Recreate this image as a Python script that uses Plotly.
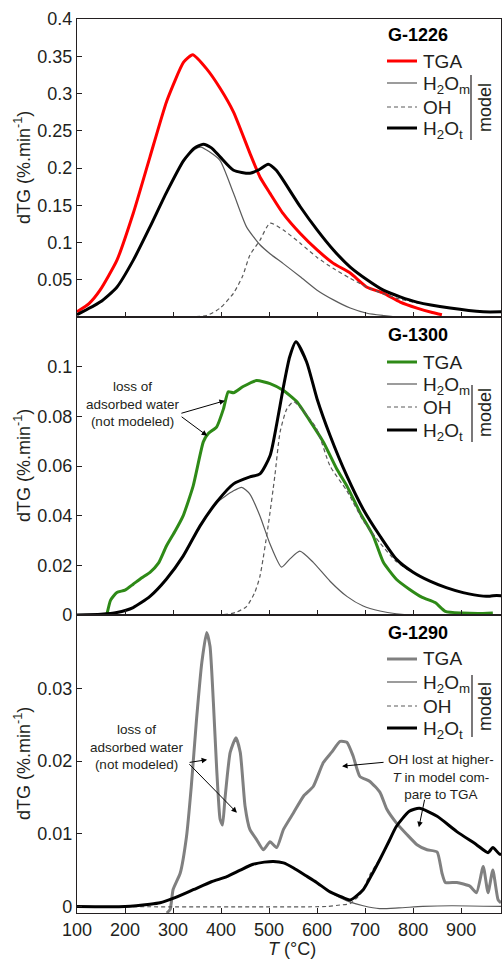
import plotly.graph_objects as go

# ---------------- DATA ----------------
# G-1226 (top)
t1_tga = [100, 125, 148, 183, 217, 252, 287, 322, 341, 370, 398, 426, 460, 481, 502, 529, 565, 600, 634, 669, 704, 738, 773, 808, 840, 860]
v1_tga = [0.007, 0.018, 0.036, 0.076, 0.139, 0.215, 0.29, 0.342, 0.352, 0.333, 0.307, 0.275, 0.22, 0.188, 0.166, 0.139, 0.112, 0.09, 0.072, 0.059, 0.040, 0.032, 0.020, 0.012, 0.006, 0.003]
t1_tot = [100, 148, 183, 217, 252, 287, 322, 345, 363, 380, 398, 426, 460, 480, 498, 515, 529, 565, 600, 634, 669, 704, 738, 773, 808, 877, 946, 985]
v1_tot = [0.003, 0.02, 0.040, 0.076, 0.121, 0.168, 0.21, 0.227, 0.232, 0.227, 0.215, 0.197, 0.193, 0.198, 0.205, 0.197, 0.184, 0.148, 0.117, 0.09, 0.067, 0.050, 0.036, 0.027, 0.020, 0.012, 0.007, 0.007]
t1_h2om = [100, 148, 183, 217, 252, 287, 322, 345, 358, 375, 398, 426, 453, 481, 502, 529, 565, 600, 634, 669, 704, 738, 770, 985]
v1_h2om = [0.003, 0.02, 0.040, 0.076, 0.121, 0.168, 0.209, 0.225, 0.228, 0.222, 0.21, 0.166, 0.121, 0.097, 0.085, 0.072, 0.054, 0.036, 0.023, 0.012, 0.005, 0.002, 0.0, 0.0]
t1_oh = [100, 300, 370, 398, 426, 445, 460, 481, 502, 529, 565, 600, 634, 669, 704, 738, 773, 808, 877, 946, 985]
v1_oh = [0, 0, 0.002, 0.012, 0.032, 0.055, 0.083, 0.103, 0.126, 0.117, 0.099, 0.080, 0.065, 0.052, 0.04, 0.031, 0.024, 0.019, 0.012, 0.007, 0.007]

# G-1300 (middle)
t2_tga = [162, 170, 183, 200, 217, 235, 252, 270, 286, 305, 321, 342, 363, 373, 391, 405, 415, 426, 446, 474, 502, 530, 558, 585, 613, 641, 662, 690, 717, 738, 765, 792, 819, 846, 867, 902, 935, 966]
v2_tga = [0, 0.006, 0.0091, 0.010, 0.0124, 0.015, 0.0172, 0.021, 0.0277, 0.034, 0.0399, 0.052, 0.0697, 0.073, 0.0758, 0.083, 0.0899, 0.0895, 0.092, 0.0944, 0.0932, 0.0904, 0.0859, 0.0782, 0.0697, 0.0588, 0.052, 0.041, 0.0318, 0.0212, 0.0144, 0.0104, 0.0071, 0.005, 0.0015, 0.0008, 0.0006, 0.0008]
t2_tot = [100, 150, 183, 217, 252, 286, 321, 356, 391, 426, 460, 481, 502, 516, 530, 543, 556, 578, 600, 627, 662, 696, 731, 765, 800, 835, 869, 904, 946, 960, 974, 985]
v2_tot = [0, 0.0003, 0.001, 0.003, 0.0075, 0.0144, 0.0237, 0.0358, 0.0455, 0.0528, 0.0556, 0.0568, 0.0641, 0.077, 0.092, 0.104, 0.110, 0.102, 0.087, 0.0723, 0.056, 0.0426, 0.0318, 0.0225, 0.0172, 0.0136, 0.011, 0.009, 0.0076, 0.0076, 0.0079, 0.0077]
t2_h2om = [100, 150, 183, 217, 252, 286, 321, 356, 391, 426, 443, 460, 481, 502, 526, 543, 564, 592, 627, 662, 696, 731, 765, 800, 985]
v2_h2om = [0, 0.0003, 0.001, 0.003, 0.0075, 0.0144, 0.0237, 0.0356, 0.0452, 0.0500, 0.0514, 0.0487, 0.0399, 0.0286, 0.0193, 0.0225, 0.0257, 0.0212, 0.0136, 0.0075, 0.0036, 0.0016, 0.0005, 0, 0]
t2_oh = [100, 398, 430, 453, 470, 481, 498, 512, 523, 537, 551, 571, 599, 627, 662, 696, 731, 765, 800, 835, 869, 904, 946, 960, 974, 985]
v2_oh = [0, 0, 0.001, 0.0034, 0.009, 0.0156, 0.0358, 0.056, 0.0737, 0.083, 0.0859, 0.0823, 0.075, 0.060, 0.05, 0.038, 0.029, 0.0215, 0.017, 0.0135, 0.011, 0.009, 0.0076, 0.0076, 0.0079, 0.0077]

# G-1290 (bottom)
t3_tga = [287, 294, 300, 315, 328, 338, 349, 360, 370, 377, 384, 391, 398, 403, 408, 419, 431, 440, 450, 460, 474, 488, 502, 516, 530, 551, 572, 592, 613, 630, 648, 662, 675, 689, 710, 731, 745, 765, 787, 808, 829, 850, 860, 867, 891, 918, 932, 946, 956, 966, 977, 983]
v3_tga = [-0.0009, -0.0004, 0.0023, 0.0046, 0.0096, 0.0165, 0.0258, 0.0336, 0.0377, 0.0358, 0.0281, 0.0188, 0.012, 0.0112, 0.0147, 0.0212, 0.0232, 0.0212, 0.0138, 0.0106, 0.0092, 0.0078, 0.0089, 0.0081, 0.0106, 0.0129, 0.0152, 0.0165, 0.0198, 0.0212, 0.0227, 0.0226, 0.0207, 0.0179, 0.0172, 0.0157, 0.0134, 0.0115, 0.0099, 0.0085, 0.0078, 0.0075, 0.0046, 0.0033, 0.0033, 0.0028, 0.0019, 0.0055, 0.0019, 0.005, 0.0009, 0.0005]
t3_tot = [100, 200, 252, 273, 300, 342, 380, 412, 440, 467, 490, 509, 530, 551, 575, 599, 627, 648, 669, 696, 715, 731, 750, 765, 792, 813, 850, 891, 932, 956, 966, 980, 985]
v3_tot = [0, 0, 0.0003, 0.0005, 0.0011, 0.0023, 0.0034, 0.0041, 0.005, 0.0058, 0.0061, 0.0062, 0.006, 0.0053, 0.0043, 0.0033, 0.002, 0.0014, 0.0009, 0.0023, 0.0045, 0.0065, 0.009, 0.011, 0.0131, 0.0135, 0.0124, 0.0103, 0.0085, 0.0074, 0.0081, 0.0072, 0.0072]
t3_h2om = [100, 200, 252, 273, 300, 342, 380, 412, 440, 467, 490, 509, 530, 551, 575, 599, 627, 648, 669, 696, 730, 770, 820, 880, 985]
v3_h2om = [0, 0, 0.0003, 0.0005, 0.0011, 0.0023, 0.0034, 0.0041, 0.005, 0.0058, 0.0061, 0.0062, 0.006, 0.0053, 0.0043, 0.0033, 0.002, 0.0012, 0.0006, 0.0001, -0.0003, -0.0002, 0, 0.0001, 0]
t3_oh = [100, 620, 648, 669, 690, 711, 731, 750, 765, 792, 813, 850, 891, 932, 956, 966, 980, 985]
v3_oh = [0, 0, 0.0002, 0.0004, 0.0017, 0.0045, 0.0066, 0.009, 0.011, 0.0131, 0.0135, 0.0124, 0.0103, 0.0085, 0.0074, 0.0081, 0.0072, 0.0072]

x_ticks = [100, 200, 300, 400, 500, 600, 700, 800, 900]
y1_ticks = [0.05, 0.1, 0.15, 0.2, 0.25, 0.3, 0.35, 0.4]
y1_labels = ["0.05", "0.1", "0.15", "0.2", "0.25", "0.3", "0.35", "0.4"]
y2_ticks = [0, 0.02, 0.04, 0.06, 0.08, 0.1]
y2_labels = ["0", "0.02", "0.04", "0.06", "0.08", "0.1"]
y3_ticks = [0, 0.01, 0.02, 0.03]
y3_labels = ["0", "0.01", "0.02", "0.03"]

samples = ["G-1226", "G-1300", "G-1290"]
tga_colors = ["#ff0000", "#2e8a17", "#808080"]

# ---------------- STYLE ----------------
FONT = "Liberation Sans, Arial, sans-serif"
INK = "#231f20"
THIN = "#5a5a5a"
W, H = 502, 961
ML, MR, MT, MB = 77, 1, 19, 48
PW, PH = W - ML - MR, H - MT - MB


def xp(px):
    return (px - ML) / PW


def yp(py):
    return (H - MB - py) / PH


fig = go.Figure()

panels = [
    (t1_tga, v1_tga, t1_h2om, v1_h2om, t1_oh, v1_oh, t1_tot, v1_tot),
    (t2_tga, v2_tga, t2_h2om, v2_h2om, t2_oh, v2_oh, t2_tot, v2_tot),
    (t3_tga, v3_tga, t3_h2om, v3_h2om, t3_oh, v3_oh, t3_tot, v3_tot),
]
for i, (tt, vt, tm, vm, to, vo, ts, vs) in enumerate(panels):
    xa = "x" if i == 0 else f"x{i+1}"
    ya = "y" if i == 0 else f"y{i+1}"
    fig.add_trace(go.Scatter(x=tt, y=vt, mode="lines", xaxis=xa, yaxis=ya,
                             line=dict(color=tga_colors[i], width=3, shape="spline", smoothing=0.5), name="TGA"))
    fig.add_trace(go.Scatter(x=tm, y=vm, mode="lines", xaxis=xa, yaxis=ya,
                             line=dict(color=THIN, width=1.2, shape="spline", smoothing=0.6), name="H2Om"))
    fig.add_trace(go.Scatter(x=to, y=vo, mode="lines", xaxis=xa, yaxis=ya,
                             line=dict(color=THIN, width=1.2, dash="4px,3px", shape="spline", smoothing=0.6), name="OH"))
    fig.add_trace(go.Scatter(x=ts, y=vs, mode="lines", xaxis=xa, yaxis=ya,
                             line=dict(color="#000000", width=3, shape="spline", smoothing=0.6), name="H2Ot"))

axis_common = dict(showline=True, linecolor=INK, linewidth=1.3, mirror=True,
                   ticks="inside", ticklen=5, tickwidth=1, tickcolor=INK,
                   showgrid=False, zeroline=False,
                   tickfont=dict(family=FONT, size=18, color=INK))

domains = [[2 / 3, 1], [1 / 3, 2 / 3], [0, 1 / 3]]
yranges = [[0, 0.4], [0, 0.12], [-0.0009, 0.0401]]
yticks = [(y1_ticks, y1_labels), (y2_ticks, y2_labels), (y3_ticks, y3_labels)]
layout = {}
for i in range(3):
    xk = "xaxis" if i == 0 else f"xaxis{i+1}"
    yk = "yaxis" if i == 0 else f"yaxis{i+1}"
    ya = "y" if i == 0 else f"y{i+1}"
    xa = "x" if i == 0 else f"x{i+1}"
    layout[xk] = dict(axis_common, range=[100, 983], tickvals=x_ticks,
                      ticktext=[str(v) for v in x_ticks], showticklabels=(i == 2),
                      anchor=ya)
    layout[yk] = dict(axis_common, range=yranges[i], domain=domains[i],
                      tickvals=yticks[i][0], ticktext=yticks[i][1], anchor=xa)

annotations = []
shapes = []

# axis titles
for i in range(3):
    y0, y1 = domains[i]
    annotations.append(dict(xref="paper", yref="paper", x=xp(22), y=(y0 + y1) / 2,
                            text="dTG (%.min<sup>-1</sup>)", textangle=-90, showarrow=False,
                            xanchor="center", yanchor="middle",
                            font=dict(family=FONT, size=18, color=INK)))
annotations.append(dict(xref="paper", yref="paper", x=xp(292), y=yp(949),
                        text="<i>T</i> (°C)", showarrow=False, xanchor="center", yanchor="middle",
                        font=dict(family=FONT, size=18, color=INK)))

# custom legends
leg = [
    dict(title=35, ys=[61, 83, 107, 128], bar=(471, 75, 140), model=108),
    dict(title=335, ys=[362, 384, 407, 430], bar=(472, 385, 442), model=413),
    dict(title=633, ys=[659, 682, 706, 728], bar=(472, 675, 737), model=707),
]
labels = ["TGA", "H<sub>2</sub>O<sub>m</sub>", "OH", "H<sub>2</sub>O<sub>t</sub>"]
for i, L in enumerate(leg):
    annotations.append(dict(xref="paper", yref="paper", x=xp(386), y=yp(L["title"]),
                            text=f"<b>{samples[i]}</b>", showarrow=False, xanchor="left",
                            yanchor="middle", font=dict(family=FONT, size=18, color="#000")))
    styles = [dict(color=tga_colors[i], width=3), dict(color=THIN, width=1.2),
              dict(color=THIN, width=1.2, dash="4px,3px"), dict(color="#000", width=3)]
    for j, yy in enumerate(L["ys"]):
        shapes.append(dict(type="line", xref="paper", yref="paper", x0=xp(387), x1=xp(417),
                           y0=yp(yy), y1=yp(yy), line=styles[j]))
        shift = 2 if j in (1, 3) else 0
        annotations.append(dict(xref="paper", yref="paper", x=xp(421), y=yp(yy + shift),
                                text=labels[j], showarrow=False, xanchor="left", yanchor="middle",
                                font=dict(family=FONT, size=19, color=INK)))
    bx, by0, by1 = L["bar"]
    shapes.append(dict(type="line", xref="paper", yref="paper", x0=xp(bx), x1=xp(bx),
                       y0=yp(by0), y1=yp(by1), line=dict(color=INK, width=1.2)))
    annotations.append(dict(xref="paper", yref="paper", x=xp(485), y=yp(L["model"]),
                            text="model", textangle=-90, showarrow=False,
                            xanchor="center", yanchor="middle",
                            font=dict(family=FONT, size=18, color=INK)))

# text notes
note_font = dict(family=FONT, size=13.5, color=INK)
annotations.append(dict(xref="paper", yref="paper", x=xp(133), y=yp(404),
                        text="loss of<br>adsorbed water<br>(not modeled)", showarrow=False,
                        xanchor="center", yanchor="middle", font=note_font))
annotations.append(dict(xref="paper", yref="paper", x=xp(137), y=yp(747),
                        text="loss of<br>adsorbed water<br>(not modeled)", showarrow=False,
                        xanchor="center", yanchor="middle", font=note_font))
annotations.append(dict(xref="paper", yref="paper", x=xp(441), y=yp(777),
                        text="OH lost at higher-<br><i>T</i> in model com-<br>pare to TGA", showarrow=False,
                        xanchor="center", yanchor="middle", font=note_font))

arrow_common = dict(text="", showarrow=True, arrowhead=2, arrowsize=1.1, arrowwidth=1,
                    arrowcolor="#000", standoff=0, startstandoff=0)
arrows = [
    ("x2", "y2", 408, 0.0863, -45, 13),
    ("x2", "y2", 371, 0.0722, -27, -20),
    ("x3", "y3", 371, 0.0202, -19, 3),
    ("x3", "y3", 433, 0.0129, -49, -50),
    ("x3", "y3", 652, 0.0193, 43, -4),
    ("x3", "y3", 812, 0.0109, 6, -29),
]
for xr, yr, x, y, ax, ay in arrows:
    annotations.append(dict(arrow_common, xref=xr, yref=yr, x=x, y=y, ax=ax, ay=ay))

fig.update_layout(
    width=W, height=H,
    margin=dict(l=ML, r=MR, t=MT, b=MB),
    paper_bgcolor="white", plot_bgcolor="white",
    showlegend=False,
    annotations=annotations, shapes=shapes,
    **layout,
)

fig.write_html("out.html")
